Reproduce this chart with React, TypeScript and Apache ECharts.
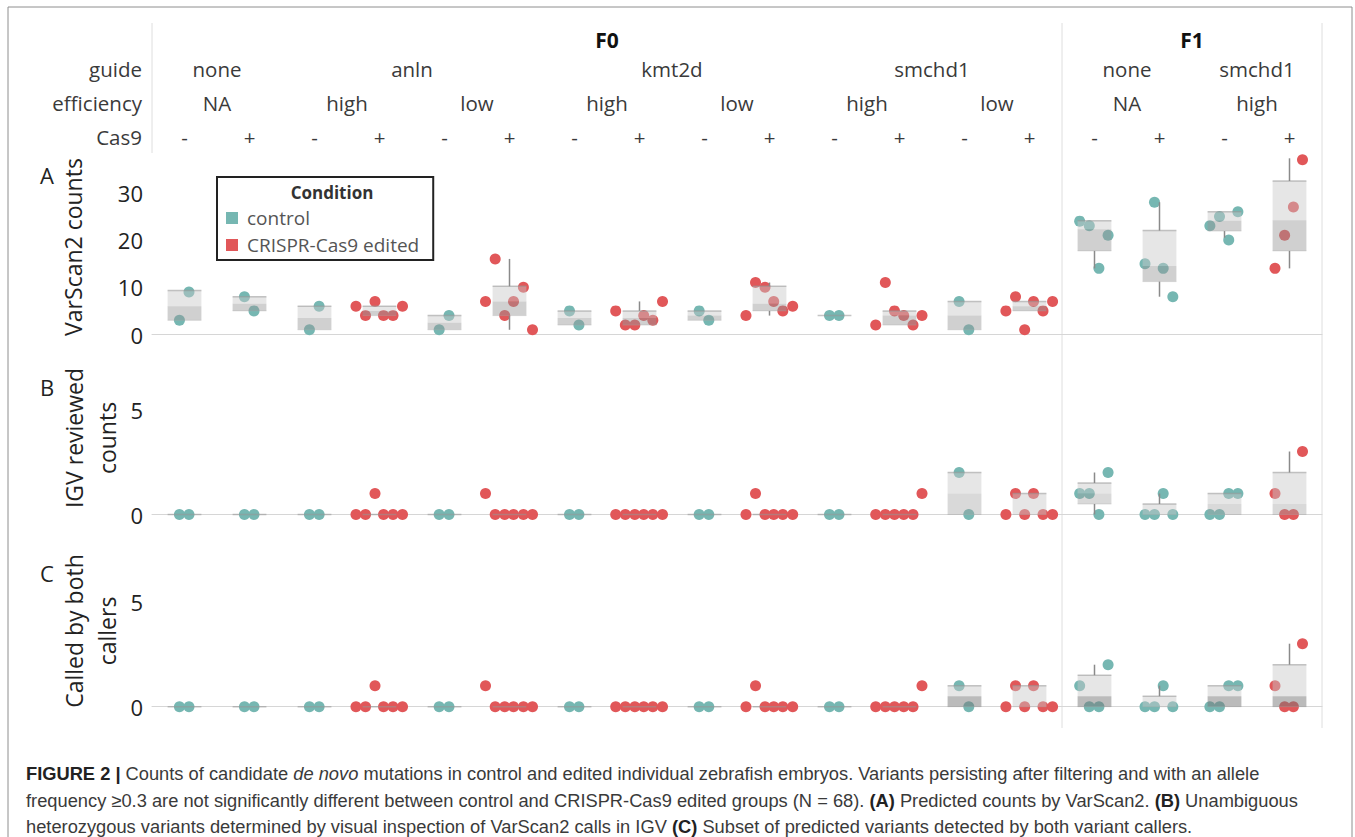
import React, { useEffect, useRef } from 'react';
import * as echarts from 'echarts';

// ---------- header / categories ----------
const GENERATION_LABELS = ['F0', 'F1'];
const GENERATION_SPANS = [14, 4];
const GUIDE_LABELS = ['none', 'anln', 'kmt2d', 'smchd1', 'none', 'smchd1'];
const GUIDE_SPANS = [2, 4, 4, 4, 2, 2];
const EFFICIENCY_LABELS = ['NA', 'high', 'low', 'high', 'low', 'high', 'low', 'NA', 'high'];
const EFFICIENCY_SPANS = [2, 2, 2, 2, 2, 2, 2, 2, 2];
const CAS9 = ['-', '+', '-', '+', '-', '+', '-', '+', '-', '+', '-', '+', '-', '+', '-', '+', '-', '+'];
const CONDITION = [
  'control', 'control', 'control', 'edited', 'control', 'edited', 'control', 'edited', 'control',
  'edited', 'control', 'edited', 'control', 'edited', 'control', 'control', 'control', 'edited',
];
const CONDITION_NAMES: Record<string, string> = { control: 'control', edited: 'CRISPR-Cas9 edited' };

// horizontal jitter of each embryo inside its column (fraction of column width)
const JITTER: number[][] = [
  [-0.078, 0.069],
  [-0.078, 0.069],
  [-0.078, 0.071],
  [-0.362, -0.215, -0.069, 0.062, 0.208, 0.354],
  [-0.082, 0.069],
  [-0.369, -0.220, -0.074, 0.062, 0.214, 0.354],
  [-0.077, 0.068],
  [-0.366, -0.218, -0.072, 0.065, 0.205, 0.354],
  [-0.082, 0.066],
  [-0.362, -0.215, -0.069, 0.065, 0.205, 0.357],
  [-0.077, 0.069],
  [-0.366, -0.218, -0.077, 0.065, 0.208, 0.346],
  [-0.083, 0.066],
  [-0.363, -0.215, -0.074, 0.062, 0.208, 0.355],
  [-0.228, -0.080, 0.068, 0.209],
  [-0.223, -0.077, 0.057, 0.205],
  [-0.225, -0.077, 0.065, 0.206],
  [-0.223, -0.075, 0.060, 0.200],
];

// ---------- values per embryo (same order as JITTER) ----------
const VARSCAN_COUNTS: number[][] = [
  [3, 9], [8, 5], [1, 6], [6, 4, 7, 4, 4, 6], [1, 4], [7, 16, 4, 7, 10, 1],
  [5, 2], [5, 2, 2, 4, 3, 7], [5, 3], [4, 11, 10, 7, 5, 6], [4, 4], [2, 11, 5, 4, 2, 4],
  [7, 1], [5, 8, 1, 7, 5, 7], [24, 23, 14, 21], [15, 28, 14, 8], [23, 25, 20, 26], [14, 21, 27, 37],
];
const IGV_COUNTS: number[][] = [
  [0, 0], [0, 0], [0, 0], [0, 0, 1, 0, 0, 0], [0, 0], [1, 0, 0, 0, 0, 0],
  [0, 0], [0, 0, 0, 0, 0, 0], [0, 0], [0, 1, 0, 0, 0, 0], [0, 0], [0, 0, 0, 0, 0, 1],
  [2, 0], [0, 1, 0, 1, 0, 0], [1, 1, 0, 2], [0, 0, 1, 0], [0, 0, 1, 1], [1, 0, 0, 3],
];
const BOTH_COUNTS: number[][] = [
  [0, 0], [0, 0], [0, 0], [0, 0, 1, 0, 0, 0], [0, 0], [1, 0, 0, 0, 0, 0],
  [0, 0], [0, 0, 0, 0, 0, 0], [0, 0], [0, 1, 0, 0, 0, 0], [0, 0], [0, 0, 0, 0, 0, 1],
  [1, 0], [0, 1, 0, 1, 0, 0], [1, 0, 0, 2], [0, 0, 1, 0], [0, 0, 1, 1], [1, 0, 0, 3],
];

// ---------- box plots: [low whisker, Q1, median, Q3, high whisker] ----------
const VARSCAN_BOX: number[][] = [
  [3, 3, 6, 9.3, 9.3], [5, 5, 6.5, 8, 8], [1, 1, 3.5, 6, 6], [4, 4, 5, 6, 6], [1, 1, 2.5, 4, 4],
  [1, 4, 7, 10.2, 16], [2, 2, 3.5, 5, 5], [2, 2, 3.5, 5, 7], [3, 3, 4, 5, 5], [4, 5, 6.5, 10.2, 11],
  [4, 4, 4, 4, 4], [2, 2, 4, 5, 5], [1, 1, 4, 7, 7], [5, 5, 6, 7, 7],
  [14, 17.7, 22.3, 24.1, 24.1], [8, 11.2, 14.5, 22, 28], [20.5, 21.9, 24.1, 26, 26], [14, 17.7, 24.2, 32.5, 37.3],
];
const IGV_BOX: number[][] = [
  [0, 0, 0, 0, 0], [0, 0, 0, 0, 0], [0, 0, 0, 0, 0], [0, 0, 0, 0, 0], [0, 0, 0, 0, 0], [0, 0, 0, 0, 0],
  [0, 0, 0, 0, 0], [0, 0, 0, 0, 0], [0, 0, 0, 0, 0], [0, 0, 0, 0, 0], [0, 0, 0, 0, 0], [0, 0, 0, 0, 0],
  [0, 0, 1, 2, 2], [0, 0, 0, 1, 1], [0, 0.5, 1, 1.5, 2], [0, 0, 0, 0.5, 1], [0, 0, 0.5, 1, 1], [0, 0, 0.5, 2, 3],
];
const BOTH_BOX: number[][] = [
  [0, 0, 0, 0, 0], [0, 0, 0, 0, 0], [0, 0, 0, 0, 0], [0, 0, 0, 0, 0], [0, 0, 0, 0, 0], [0, 0, 0, 0, 0],
  [0, 0, 0, 0, 0], [0, 0, 0, 0, 0], [0, 0, 0, 0, 0], [0, 0, 0, 0, 0], [0, 0, 0, 0, 0], [0, 0, 0, 0, 0],
  [0, 0, 0.5, 1, 1], [0, 0, 0, 1, 1], [0, 0, 0.5, 1.5, 2], [0, 0, 0, 0.5, 1], [0, 0, 0.5, 1, 1], [0, 0, 0.5, 2, 3],
];

const VARSCAN_TICKS = [0, 10, 20, 30];
const IGV_TICKS = [0, 5];
const BOTH_TICKS = [0, 5];

const PANEL_LETTERS = ['A', 'B', 'C'];
const PANEL_NAMES = ['VarScan2 counts', 'IGV reviewed\ncounts', 'Called by both\ncallers'];

const CAPTION_LINES = [
  '{b|FIGURE 2 |} Counts of candidate {i|de novo} mutations in control and edited individual zebrafish embryos. Variants persisting after filtering and with an allele',
  'frequency ≥0.3 are not significantly different between control and CRISPR-Cas9 edited groups (N = 68). {b|(A)} Predicted counts by VarScan2. {b|(B)} Unambiguous',
  'heterozygous variants determined by visual inspection of VarScan2 calls in IGV {b|(C)} Subset of predicted variants detected by both variant callers.',
];

// ---------- styles ----------
const FONT = '"Open Sans", "Noto Sans", sans-serif';
const CAPTION_FONT = '"Liberation Sans", Arial, sans-serif';
const CAPTION_SIZE = 18.3;
const COLORS: Record<string, string> = { control: '#76b7b2', edited: '#e15759' };
const TEXT = '#3a3a3a';

const PANELS = [
  { values: VARSCAN_COUNTS, box: VARSCAN_BOX, ticks: VARSCAN_TICKS, max: 38, interval: 10, lower: 'rgba(150,150,150,0.45)' },
  { values: IGV_COUNTS, box: IGV_BOX, ticks: IGV_TICKS, max: 8, interval: 5, lower: 'rgba(160,160,160,0.40)' },
  { values: BOTH_COUNTS, box: BOTH_BOX, ticks: BOTH_TICKS, max: 8, interval: 5, lower: 'rgba(120,120,120,0.50)' },
];
const GRIDS = [
  { left: 152, width: 1170, top: 155, height: 179.5 },
  { left: 152, width: 1170, top: 346.5, height: 168 },
  { left: 152, width: 1170, top: 538.7, height: 168 },
];
const NAME_POS = [
  { x: 73, y: 247 },
  { x: 90, y: 438 },
  { x: 90, y: 631 },
];
const LETTER_Y = [175, 387, 573];

function buildOption(): any {
  const series: any[] = [];
  PANELS.forEach((p, gi) => {
    ['control', 'edited'].forEach((cond) => {
      const data: number[][] = [];
      p.values.forEach((vals, c) => {
        if (CONDITION[c] !== cond) return;
        vals.forEach((v, k) => data.push([c + JITTER[c][k], v]));
      });
      series.push({
        type: 'scatter',
        name: CONDITION_NAMES[cond],
        xAxisIndex: gi,
        yAxisIndex: gi,
        data,
        symbol: 'circle',
        symbolSize: 11,
        itemStyle: { color: COLORS[cond], opacity: 1 },
        clip: false,
        z: 2,
        silent: true,
      });
    });
    series.push({
      type: 'custom',
      name: 'box' + gi,
      xAxisIndex: gi,
      yAxisIndex: gi,
      clip: false,
      z: 3,
      silent: true,
      data: p.box.map((b, c) => [c, ...b]),
      encode: { x: 0, y: [1, 2, 3, 4, 5] },
      renderItem: (params: any, api: any) => {
        const c = api.value(0);
        const lo = api.value(1);
        const q1 = api.value(2);
        const med = api.value(3);
        const q3 = api.value(4);
        const hi = api.value(5);
        const half = api.size([1, 0])[0] * 0.26;
        const cx = api.coord([c, q1])[0];
        const yLo = api.coord([c, lo])[1];
        const yQ1 = api.coord([c, q1])[1];
        const yMed = api.coord([c, med])[1];
        const yQ3 = api.coord([c, q3])[1];
        const yHi = api.coord([c, hi])[1];
        const children: any[] = [];
        if (q3 > med) {
          children.push({ type: 'rect', shape: { x: cx - half, y: yQ3, width: 2 * half, height: yMed - yQ3 }, style: { fill: 'rgba(200,200,200,0.45)' } });
        }
        if (med > q1) {
          children.push({ type: 'rect', shape: { x: cx - half, y: yMed, width: 2 * half, height: yQ1 - yMed }, style: { fill: p.lower } });
        }
        children.push({ type: 'line', shape: { x1: cx - half, y1: yQ3, x2: cx + half, y2: yQ3 }, style: { stroke: 'rgba(150,150,150,0.55)', lineWidth: 1.5 } });
        if (q1 < q3) {
          children.push({ type: 'line', shape: { x1: cx - half, y1: yQ1, x2: cx + half, y2: yQ1 }, style: { stroke: 'rgba(170,170,170,0.35)', lineWidth: 1 } });
        }
        if (hi > q3) {
          children.push({ type: 'line', shape: { x1: cx, y1: yQ3, x2: cx, y2: yHi }, style: { stroke: '#8a8a8a', lineWidth: 1.5 } });
        }
        if (lo < q1) {
          children.push({ type: 'line', shape: { x1: cx, y1: yQ1, x2: cx, y2: yLo }, style: { stroke: '#8a8a8a', lineWidth: 1.5 } });
        }
        return { type: 'group', children };
      },
    });
  });

  return {
    animation: false,
    backgroundColor: '#ffffff',
    grid: GRIDS.map((g) => ({ ...g, containLabel: false })),
    xAxis: GRIDS.map((_, i) => ({
      type: 'value',
      gridIndex: i,
      min: -0.5,
      max: 17.5,
      axisLine: { show: true, onZero: false, lineStyle: { color: '#d6d6d6', width: 1 } },
      axisTick: { show: false },
      axisLabel: { show: false },
      splitLine: { show: false },
    })),
    yAxis: PANELS.map((p, i) => ({
      type: 'value',
      gridIndex: i,
      min: 0,
      max: p.max,
      interval: p.interval,
      axisLine: { show: false },
      axisTick: { show: false },
      splitLine: { show: false },
      axisLabel: {
        fontSize: 22,
        fontFamily: FONT,
        color: '#222',
        margin: 9,
        showMaxLabel: false,
        formatter: (v: number) => (p.ticks.indexOf(v) >= 0 ? String(v) : ''),
      },
    })),
    legend: {
      show: true,
      data: ['control', 'CRISPR-Cas9 edited'],
      orient: 'vertical',
      left: 217,
      top: 177,
      borderColor: '#222',
      borderWidth: 2,
      padding: [31, 14, 5, 9],
      itemGap: 7,
      itemWidth: 12,
      itemHeight: 12,
      icon: 'rect',
      selectedMode: false,
      textStyle: { fontSize: 19, fontFamily: FONT, color: '#555', lineHeight: 20, padding: [0, 0, 0, 4] },
    },
    series,
    graphic: [],
  };
}

function buildGraphics(chart: any): any[] {
  const px = (v: number) => chart.convertToPixel({ gridIndex: 0 }, [v, 0])[0];
  const g: any[] = [];
  const text = (x: number, y: number, t: string, extra: any = {}) => ({
    type: 'text',
    x,
    y,
    silent: true,
    style: { text: t, fontSize: 20.5, fontFamily: FONT, fill: TEXT, align: 'center', verticalAlign: 'middle', ...extra },
  });

  // frame
  g.push({ type: 'rect', silent: true, shape: { x: 8, y: 7, width: 1344, height: 900 }, style: { fill: 'none', stroke: '#8e8e8e', lineWidth: 1 } });

  // header separators
  const xLeft = px(-0.5);
  const xSep = px(GENERATION_SPANS[0] - 0.5);
  const xRight = px(17.5);
  g.push({ type: 'line', silent: true, shape: { x1: xLeft, y1: 23, x2: xLeft, y2: 153 }, style: { stroke: '#dedede', lineWidth: 1 } });
  g.push({ type: 'line', silent: true, shape: { x1: xSep, y1: 23, x2: xSep, y2: 728 }, style: { stroke: '#dedede', lineWidth: 1 } });
  g.push({ type: 'line', silent: true, shape: { x1: xRight, y1: 23, x2: xRight, y2: 728 }, style: { stroke: '#dedede', lineWidth: 1 } });

  const spanRow = (labels: string[], spans: number[], y: number, extra: any = {}) => {
    let start = 0;
    labels.forEach((l, i) => {
      const mid = start + (spans[i] - 1) / 2;
      g.push(text(px(mid), y, l, extra));
      start += spans[i];
    });
  };
  spanRow(GENERATION_LABELS, GENERATION_SPANS, 40, { fontWeight: 'bold', fontSize: 21, fill: '#111' });
  spanRow(GUIDE_LABELS, GUIDE_SPANS, 69);
  spanRow(EFFICIENCY_LABELS, EFFICIENCY_SPANS, 103);
  CAS9.forEach((s, i) => g.push(text(px(i), 137, s)));

  g.push(text(142, 69, 'guide', { align: 'right' }));
  g.push(text(142, 103, 'efficiency', { align: 'right' }));
  g.push(text(142, 137, 'Cas9', { align: 'right' }));

  // panel letters and y-axis names
  PANEL_LETTERS.forEach((l, i) => g.push(text(47, LETTER_Y[i], l, { fontSize: 22, fill: '#222' })));
  PANEL_NAMES.forEach((n, i) =>
    g.push({
      type: 'text',
      x: NAME_POS[i].x,
      y: NAME_POS[i].y,
      rotation: Math.PI / 2,
      silent: true,
      style: { text: n, fontSize: 23, lineHeight: 33, fontFamily: FONT, fill: '#222', align: 'center', verticalAlign: 'middle' },
    })
  );

  // legend title
  g.push(text(332, 192, 'Condition', { fontWeight: 'bold', fontSize: 17, fill: '#333' }));

  // caption
  const capY = [773, 800, 826];
  CAPTION_LINES.forEach((line, i) =>
    g.push({
      type: 'text',
      x: 26,
      y: capY[i],
      silent: true,
      style: {
        text: line,
        fontSize: CAPTION_SIZE,
        fontFamily: CAPTION_FONT,
        fill: '#3a3a3a',
        align: 'left',
        verticalAlign: 'middle',
        rich: {
          b: { fontSize: CAPTION_SIZE, fontFamily: CAPTION_FONT, fontWeight: 'bold', fill: '#222' },
          i: { fontSize: CAPTION_SIZE, fontFamily: CAPTION_FONT, fontStyle: 'italic', fill: '#3a3a3a' },
        },
      },
    })
  );
  return g;
}

export default function App() {
  const ref = useRef<HTMLDivElement>(null);
  useEffect(() => {
    if (!ref.current) return;
    const chart = echarts.init(ref.current, null, { renderer: 'svg' });
    chart.setOption(buildOption());
    chart.setOption({ graphic: buildGraphics(chart) });
    return () => chart.dispose();
  }, []);
  return (
    <div
      ref={ref}
      style={{ position: 'fixed', left: 0, top: 0, width: 1355, height: 837, background: '#ffffff' }}
    />
  );
}
